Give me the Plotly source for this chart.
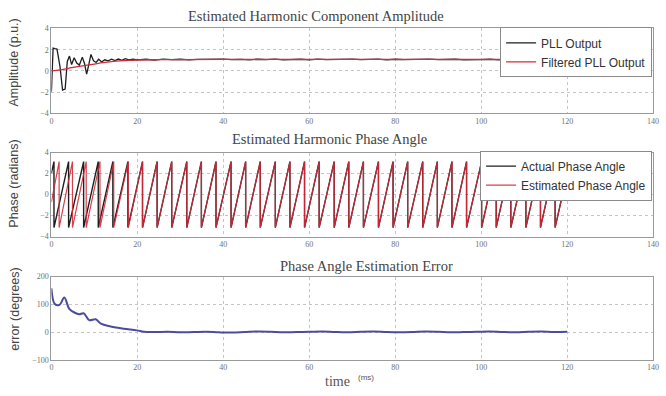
import plotly.graph_objects as go
import math

# ---------------- data (time in ms) ----------------
# Harmonic amplitude: raw PLL output and filtered PLL output (p.u.)
amp_t = [0, 0.4, 0.8, 1.3, 2.0, 2.6, 3.2, 3.7, 4.2, 4.7, 5.3, 5.9, 6.5, 7.2, 7.7,
         8.2, 8.7, 9.2, 9.8, 10.4, 11.0, 11.7, 12.4, 13.2, 14.0, 14.8, 15.6, 16.4,
         17.2, 18.0, 19.0, 20, 22, 24, 26, 28, 30, 32, 34, 36, 38, 40, 42, 44, 46,
         48, 50, 52, 54, 56, 58, 60, 62, 64, 66, 68, 70, 72, 74, 76, 78, 80, 82, 84,
         86, 88, 90, 92, 94, 96, 98, 100, 102, 104, 106, 108, 110, 112, 114, 116,
         118, 120]
pll_out = [-1.95, 2.15, 2.1, 2.05, 0.4, -1.8, -1.7, 0.9, 1.4, 0.6, 1.25, 0.75, 0.55,
           1.3, 0.7, -0.3, 0.6, 1.55, 0.95, 0.8, 1.1, 0.85, 1.05, 0.95, 1.1, 0.98,
           1.12, 1.0, 1.15, 1.05, 1.12, 1.05, 1.1, 1.02, 1.12, 1.06, 1.1, 1.04, 1.08,
           1.1, 1.05, 1.12, 1.06, 1.09, 1.04, 1.1, 1.07, 1.12, 1.05, 1.08, 1.1, 1.04,
           1.12, 1.07, 1.09, 1.05, 1.11, 1.06, 1.08, 1.12, 1.04, 1.1, 1.07, 1.09, 1.05,
           1.12, 1.06, 1.08, 1.1, 1.04, 1.09, 1.07, 1.1, 1.05, 1.08, 1.11, 1.06, 1.09,
           1.07, 1.1, 1.05, 1.08]
filt_t = [0, 2, 4, 6, 8, 10, 12, 14, 16, 18, 20, 25, 30, 40, 60, 80, 100, 120]
filt_out = [0.0, 0.1, 0.25, 0.4, 0.52, 0.65, 0.78, 0.88, 0.95, 1.0, 1.03, 1.06, 1.07,
            1.08, 1.08, 1.08, 1.08, 1.08]

# Harmonic phase: times (ms) at which each phase angle wraps from +pi to -pi
actual_wraps = [0.6, 4.0, 7.5, 10.9, 14.3, 17.8, 21.2, 24.6, 28.0, 31.5, 34.9, 38.3,
                41.8, 45.2, 48.6, 52.1, 55.5, 58.9, 62.3, 65.8, 69.2, 72.6, 76.1,
                79.5, 82.9, 86.4, 89.8, 93.2, 96.6, 100.1, 103.5, 106.9, 110.4,
                113.8, 117.2]
estimated_wraps = [1.8, 4.9, 8.1, 11.3, 14.5, 17.9, 21.2, 24.6, 28.0, 31.5, 34.9,
                   38.3, 41.8, 45.2, 48.6, 52.1, 55.5, 58.9, 62.3, 65.8, 69.2, 72.6,
                   76.1, 79.5, 82.9, 86.4, 89.8, 93.2, 96.6, 100.1, 103.5, 106.9,
                   110.4, 113.8, 117.2]
actual_start, actual_end = 2.04, 1.95        # rad at t = 0 and t = 120
estimated_start, estimated_end = -0.72, 1.95

# Phase estimation error (degrees)
err_t = [0, 0.8, 1.9, 3.0, 4.2, 5.7, 6.5, 7.5, 8.8, 10.3, 11.5, 13.8, 16.8, 19.9,
         21.5, 24, 27, 30, 33, 36, 39, 42, 45, 48, 51, 54, 57, 60, 63, 66, 69, 72,
         75, 78, 81, 84, 87, 90, 93, 96, 99, 102, 105, 108, 111, 114, 117, 120]
err_deg = [158, 101, 98, 125, 83, 68, 64, 68, 43, 46, 30, 20, 12, 6, 1, 0, 1, -1, 0,
           1, -1, -2, 0, 2, 1, -1, 0, 1, 2, 0, -1, 1, 2, 0, -1, 0, 2, 1, -1, 0, 1, 2,
           0, -1, 1, 2, 0, 1]

T_MAX = 120
X_TICKS = [0, 20, 40, 60, 80, 100, 120, 140]


def sawtooth_path(start, wraps, end):
    """Vertices of a wrapped phase angle: ramps to +pi, drops to -pi at each wrap."""
    xs, ys = [0], [start]
    for w in wraps:
        xs += [w, w]
        ys += [math.pi, -math.pi]
    xs.append(T_MAX)
    ys.append(end)
    return xs, ys


act_x, act_y = sawtooth_path(actual_start, actual_wraps, actual_end)
est_x, est_y = sawtooth_path(estimated_start, estimated_wraps, estimated_end)

BLACK = "#1e1e1e"
RED = "#d42a3a"
BLUE = "#4c4c9e"

fig = go.Figure()
fig.add_trace(go.Scatter(x=amp_t, y=pll_out, mode="lines", name="PLL Output",
                         line=dict(color=BLACK, width=1.3), xaxis="x", yaxis="y",
                         legend="legend"))
fig.add_trace(go.Scatter(x=filt_t, y=filt_out, mode="lines", name="Filtered PLL Output",
                         line=dict(color=RED, width=1.3, shape="spline"),
                         xaxis="x", yaxis="y", legend="legend"))
fig.add_trace(go.Scatter(x=act_x, y=act_y, mode="lines", name="Actual Phase Angle",
                         line=dict(color=BLACK, width=1.4), xaxis="x2", yaxis="y2",
                         legend="legend2"))
fig.add_trace(go.Scatter(x=est_x, y=est_y, mode="lines", name="Estimated Phase Angle",
                         line=dict(color=RED, width=1.2), opacity=0.9,
                         xaxis="x2", yaxis="y2", legend="legend2"))
fig.add_trace(go.Scatter(x=err_t, y=err_deg, mode="lines", showlegend=False,
                         line=dict(color=BLUE, width=2, shape="spline"),
                         xaxis="x3", yaxis="y3"))

W, H = 666, 396
x_dom = [50 / W, 659 / W]


def ydom(top_px, bottom_px):
    return [1 - bottom_px / H, 1 - top_px / H]


tick_font = dict(family="Liberation Serif", size=8, color="#707070")
axis_common = dict(showline=True, linecolor="#9a9a9a", linewidth=1, mirror=True,
                   showgrid=True, gridcolor="#c4c4c4", griddash="dot", gridwidth=1,
                   zeroline=False, ticks="", tickfont=tick_font)

legend_style = dict(xanchor="right", yanchor="top", bgcolor="white",
                    bordercolor="#8a8a8a", borderwidth=1,
                    font=dict(family="Liberation Sans", size=12, color="#333"),
                    itemwidth=30, tracegroupgap=0, entrywidthmode="pixels")

xa = dict(axis_common, range=[0, 140], tickvals=X_TICKS, domain=x_dom)
fig.update_layout(
    width=W, height=H, margin=dict(l=0, r=0, t=0, b=0),
    paper_bgcolor="white", plot_bgcolor="white",
    xaxis=dict(xa, anchor="y"),
    xaxis2=dict(xa, anchor="y2"),
    xaxis3=dict(xa, anchor="y3"),
    yaxis=dict(axis_common, range=[-4, 4], tickvals=[-4, -2, 0, 2, 4],
               domain=ydom(25, 112), anchor="x"),
    yaxis2=dict(axis_common, range=[-4, 4], tickvals=[-4, -2, 0, 2, 4],
                domain=ydom(152, 238), anchor="x2"),
    yaxis3=dict(axis_common, range=[-100, 200], tickvals=[-100, 0, 100, 200],
                domain=ydom(279, 364), anchor="x3"),
    legend=dict(legend_style, x=658 / W, y=1 - 24 / H, entrywidth=124),
    legend2=dict(legend_style, x=658 / W, y=1 - 150 / H, entrywidth=147),
)

title_font = dict(family="Liberation Serif", size=14.5, color="#444")
label_font = dict(family="Liberation Sans", size=12.5, color="#444")
annotations = [
    dict(text="Estimated Harmonic Component Amplitude", x=318, y=12, font=title_font),
    dict(text="Estimated Harmonic Phase Angle", x=331, y=138, font=title_font),
    dict(text="Phase Angle Estimation Error", x=369, y=268, font=title_font),
    dict(text="Amplitude (p.u.)", x=12, y=60, font=label_font, textangle=-90),
    dict(text="Phase (radians)", x=12, y=184, font=label_font, textangle=-90),
    dict(text="error (degrees)", x=13, y=312, font=label_font, textangle=-90),
    dict(text="time", x=340, y=386, font=dict(family="Liberation Serif", size=14,
                                               color="#555")),
    dict(text="(ms)", x=368, y=382, font=dict(family="Liberation Sans", size=8,
                                               color="#555")),
]
for a in annotations:
    fig.add_annotation(text=a["text"], x=a["x"] / W, y=1 - a["y"] / H,
                       xref="paper", yref="paper", showarrow=False,
                       xanchor="center", yanchor="middle", font=a["font"],
                       textangle=a.get("textangle", 0))

fig.write_html("out.html")
